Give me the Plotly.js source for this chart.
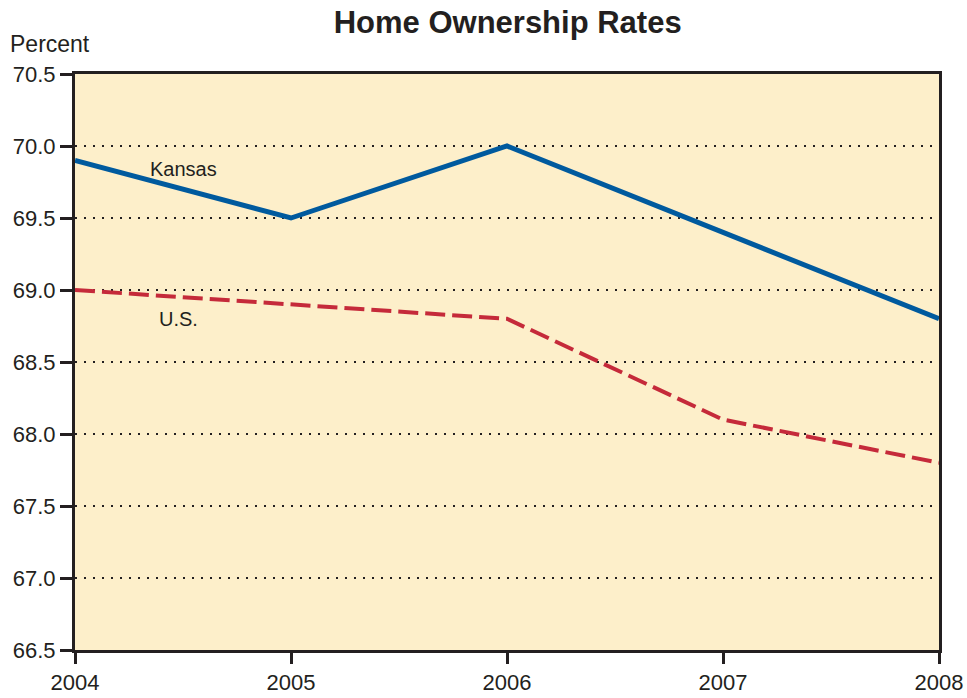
<!DOCTYPE html>
<html>
<head>
<meta charset="utf-8">
<script src="https://cdn.plot.ly/plotly-3.0.1.min.js"></script>
<style>html,body{margin:0;padding:0;background:#fff;}#chart{width:967px;height:698px;}</style>
</head>
<body>
<div id="chart"></div>
<script>
const years = [2004, 2005, 2006, 2007, 2008];
const kansas = [69.9, 69.5, 70.0, 69.4, 68.8];
const us = [69.0, 68.9, 68.8, 68.1, 67.8];
const yTicks = [66.5, 67.0, 67.5, 68.0, 68.5, 69.0, 69.5, 70.0, 70.5];
const gridVals = [67.0, 67.5, 68.0, 68.5, 69.0, 69.5, 70.0];

const font = "Liberation Sans, Arial, sans-serif";
const txt = "#231f20";

const shapes = gridVals.map(v => ({
  type: 'line', xref: 'paper', x0: 0, x1: 1, yref: 'y', y0: v, y1: v,
  line: {color: '#231f20', width: 2, dash: '2px,7px'}, layer: 'below'
}));

const traces = [
  {x: years, y: kansas, mode: 'lines', name: 'Kansas',
   line: {color: '#005a9e', width: 5}, hoverinfo: 'skip'},
  {x: years, y: us, mode: 'lines', name: 'U.S.',
   line: {color: '#c52a3a', width: 4, dash: '20px,7px'}, hoverinfo: 'skip'}
];

const layout = {
  width: 967, height: 698,
  margin: {l: 75, r: 28, t: 74, b: 48},
  paper_bgcolor: '#ffffff',
  plot_bgcolor: '#fdefca',
  showlegend: false,
  font: {family: font, color: txt, size: 22},
  title: {text: '<b>Home Ownership Rates</b>', font: {family: font, size: 31, color: txt},
          x: 0.525, xanchor: 'center', y: 0.968, yanchor: 'middle'},
  xaxis: {
    range: [2004, 2008], tickvals: years, ticktext: years.map(String),
    showgrid: false, zeroline: false,
    showline: true, linecolor: '#231f20', linewidth: 3, mirror: true,
    ticks: 'outside', ticklen: 11, tickwidth: 3, tickcolor: '#231f20',
    tickfont: {family: font, size: 22, color: txt}
  },
  yaxis: {
    range: [66.5, 70.5], tickvals: yTicks, tickformat: '.1f',
    showgrid: false, zeroline: false,
    showline: true, linecolor: '#231f20', linewidth: 3, mirror: true,
    ticks: 'outside', ticklen: 12, tickwidth: 3, tickcolor: '#231f20',
    tickfont: {family: font, size: 22, color: txt}
  },
  shapes: shapes,
  annotations: [
    {text: 'Percent', xref: 'paper', yref: 'paper', x: -0.077, y: 1.052,
     xanchor: 'left', yanchor: 'middle', showarrow: false,
     font: {family: font, size: 23, color: txt}},
    {text: 'Kansas', xref: 'x', yref: 'y', x: 2004.34, y: 69.84,
     xanchor: 'left', yanchor: 'middle', showarrow: false,
     font: {family: font, size: 20, color: txt}},
    {text: 'U.S.', xref: 'x', yref: 'y', x: 2004.38, y: 68.8,
     xanchor: 'left', yanchor: 'middle', showarrow: false,
     font: {family: font, size: 20, color: txt}}
  ]
};

Plotly.newPlot('chart', traces, layout, {displayModeBar: false, staticPlot: true});
</script>
</body>
</html>
